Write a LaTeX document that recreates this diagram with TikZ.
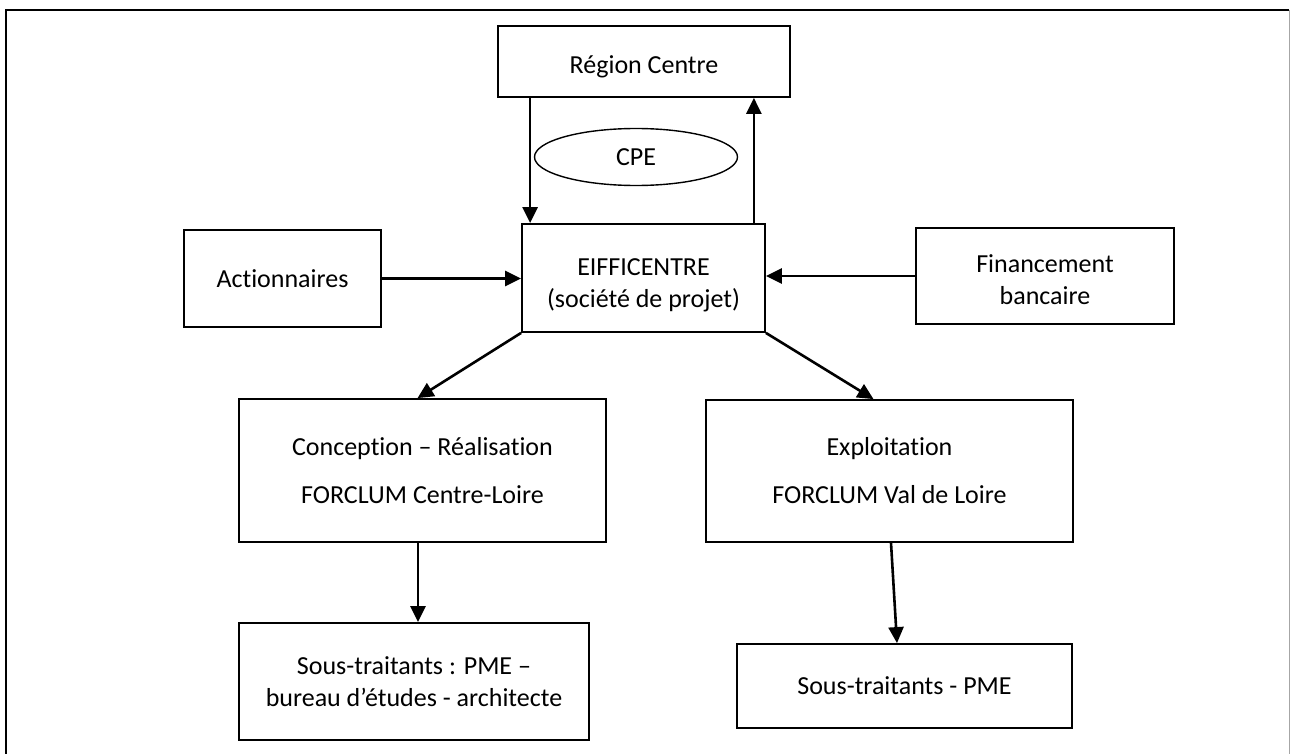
\documentclass[tikz,border=0pt]{standalone}
\usepackage{fontspec}
\setmainfont{Carlito}[RawFeature={-liga;-clig;-calt;-dlig}]
\usetikzlibrary{arrows.meta,shapes.geometric}
\begin{document}
\begin{tikzpicture}[x=1pt,y=-1pt,
  box/.style={draw=black,line width=1.8pt,rectangle,inner sep=0pt,align=center,
    font=\fontsize{26}{32}\selectfont},
  txt/.style={inner sep=0pt,align=center,font=\fontsize{26}{32}\selectfont},
  oval/.style={draw=black,line width=1.4pt,ellipse,inner sep=0pt,
    font=\fontsize{26}{32}\selectfont},
  conn/.style={line width=2.6pt,-{Triangle[length=16pt,width=15pt]}}]
\useasboundingbox (0,0) rectangle (1290,754);
% outer frame
\draw[line width=2.4pt,black] (6,780) -- (6,10) -- (1289,10);
\draw[line width=1pt,gray!70] (1289,10) -- (1289,780);
% nodes
\node[box,minimum width=292pt,minimum height=71pt] (reg) at (644,61.5) {};
\node[txt] (regt) at ([yshift=-5pt]reg.center) {Région Centre};
\node[oval,minimum width=203pt,minimum height=57pt] (cpe) at (636,157) {CPE};
\node[box,minimum width=243pt,minimum height=108pt] (eiff) at (643.5,278) {};
\node[txt] (eifft) at ([yshift=-7pt]eiff.center) {EIFFICENTRE\\(société de projet)};
\node[box,minimum width=197pt,minimum height=97pt] (act) at (282.5,278.5) {Actionnaires};
\node[box,minimum width=258pt,minimum height=96pt] (fin) at (1045,276) {};
\node[txt] (fint) at ([yshift=-4pt]fin.center) {Financement\\bancaire};
\node[box,minimum width=367pt,minimum height=143pt] (conc) at (422.5,470.5) {Conception – Réalisation\\[16pt]FORCLUM Centre-Loire};
\node[box,minimum width=367pt,minimum height=142pt] (expl) at (889.5,471) {Exploitation\\[16pt]FORCLUM Val de Loire};
\node[box,minimum width=350pt,minimum height=117pt] (st1) at (414,681.5) {Sous-traitants : PME –\\bureau d’études - architecte};
\node[box,minimum width=335pt,minimum height=84pt] (st2) at (904.5,686) {Sous-traitants - PME};
% connectors
\draw[conn] ([xshift=9pt]eiff.north west |- reg.south) -- ([xshift=9pt]eiff.north west);
\draw[conn] ([xshift=-12pt]eiff.north east) -- ([xshift=-12pt]eiff.north east |- reg.south);
\draw[conn] (act.east) -- (act.east -| eiff.west);
\draw[conn] (fin.west) -- (fin.west -| eiff.east);
\draw[conn] (eiff.south west) -- ([xshift=-5pt]conc.north);
\draw[conn] (eiff.south east) -- ([xshift=-16pt]expl.north);
\draw[conn] ([xshift=-4.5pt]conc.south) -- ([xshift=4pt]st1.north);
\draw[conn] ([xshift=1.5pt]expl.south) -- ([xshift=-7.5pt]st2.north);
\end{tikzpicture}
\end{document}
